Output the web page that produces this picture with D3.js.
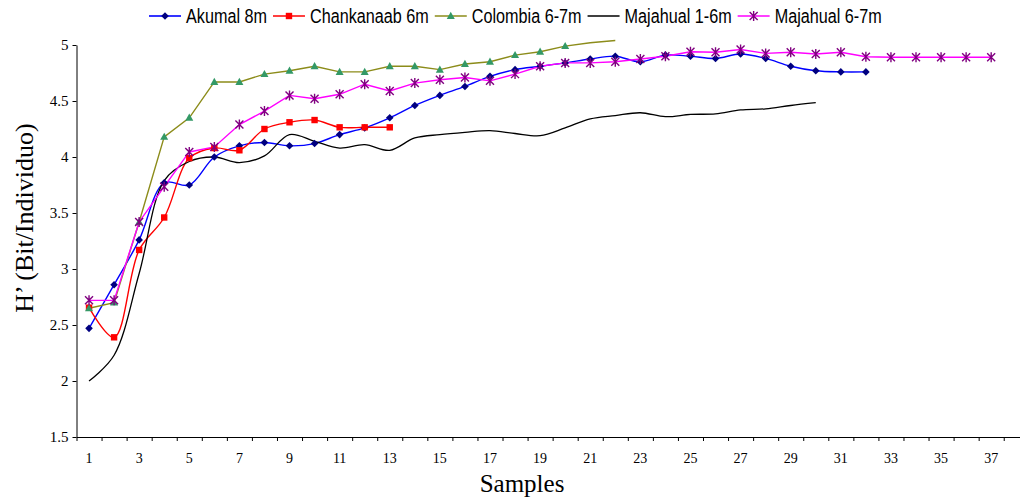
<!DOCTYPE html>
<html><head><meta charset="utf-8">
<script src="https://cdn.jsdelivr.net/npm/d3@7"></script>
<style>
html,body{margin:0;padding:0;background:#fff;}
svg{display:block;}
</style></head>
<body>
<svg id="chart" width="1020" height="498"></svg>
<script>
// ---- data ----
const samples = [1,2,3,4,5,6,7,8,9,10,11,12,13,14,15,16,17,18,19,20,21,22,23,24,25,26,27,28,29,30,31,32,33,34,35,36,37,38];
const xTickLabels = [1,3,5,7,9,11,13,15,17,19,21,23,25,27,29,31,33,35,37];
const yTicks = [1.5,2,2.5,3,3.5,4,4.5,5];
const akumal = [2.47,2.86,3.26,3.77,3.75,4.0,4.10,4.13,4.10,4.12,4.20,4.26,4.35,4.46,4.55,4.63,4.72,4.78,4.81,4.84,4.875,4.90,4.85,4.91,4.90,4.88,4.92,4.88,4.81,4.77,4.76,4.76];
const chankanaab = [2.655,2.39,3.17,3.46,3.99,4.08,4.06,4.25,4.31,4.33,4.265,4.265,4.265];
const colombia = [2.65,2.70,3.42,4.18,4.35,4.67,4.67,4.74,4.77,4.81,4.76,4.76,4.81,4.81,4.78,4.83,4.85,4.91,4.94,4.99,5.02,5.04];
const majahual16 = [2.0,2.23,2.96,3.79,3.96,4.0,3.95,4.01,4.2,4.14,4.08,4.11,4.06,4.17,4.20,4.22,4.235,4.21,4.19,4.26,4.34,4.37,4.395,4.36,4.38,4.385,4.42,4.43,4.46,4.485];
const majahual67 = [2.72,2.72,3.42,3.735,4.045,4.09,4.29,4.41,4.55,4.52,4.56,4.65,4.59,4.66,4.69,4.71,4.68,4.74,4.81,4.84,4.84,4.85,4.875,4.90,4.94,4.935,4.96,4.925,4.935,4.92,4.935,4.895,4.89,4.89,4.89,4.89,4.89];
const seriesNames = ["Akumal 8m","Chankanaab 6m","Colombia 6-7m","Majahual 1-6m","Majahual 6-7m"];

// ---- styles ----
const series = [
  {name: seriesNames[0], values: akumal, line: "#0000ff", fill: "#000080", marker: "diamond", smooth: true},
  {name: seriesNames[1], values: chankanaab, line: "#ff0000", fill: "#ff0000", marker: "square", smooth: true},
  {name: seriesNames[2], values: colombia, line: "#8c8c1a", fill: "#339966", marker: "triangle", smooth: false},
  {name: seriesNames[3], values: majahual16, line: "#000000", fill: null, marker: null, smooth: true},
  {name: seriesNames[4], values: majahual67, line: "#ff00ff", fill: "#800080", marker: "star", smooth: false}
];

const svg = d3.select("#chart");
const mLeft = 76.5, bw = 25.06, mTop = 45, mBottom = 437;
const x = d3.scaleBand().domain(samples).range([mLeft, mLeft + bw * samples.length]).padding(0);
const xc = d => x(d) + x.bandwidth() / 2;
const y = d3.scaleLinear().domain([1.5, 5]).range([mBottom, mTop]);
const serif = "'Liberation Serif','Times New Roman',serif";

// axes
const yAxis = d3.axisLeft(y).tickValues(yTicks).tickSize(4).tickSizeOuter(0).tickPadding(4).tickFormat(d => String(d));
const gy = svg.append("g").attr("transform", `translate(${mLeft},0)`).call(yAxis);
gy.select(".domain").attr("stroke", "#000");
gy.selectAll(".tick line").attr("stroke", "#000");
gy.selectAll("text").attr("font-family", serif).attr("font-size", 15).attr("fill", "#000");

const xb = d3.scaleLinear().domain([0, samples.length]).range([mLeft, mLeft + bw * samples.length]);
const xAxis = d3.axisBottom(xb).tickValues(d3.range(0, samples.length + 1)).tickSize(4).tickSizeOuter(0).tickFormat("");
const gx = svg.append("g").attr("transform", `translate(0,${mBottom})`).call(xAxis);
gx.select(".domain").attr("stroke", "#000");
gx.selectAll(".tick line").attr("stroke", "#000");
svg.append("g").selectAll("text").data(xTickLabels).join("text")
  .attr("x", d => xc(d)).attr("y", mBottom + 26)
  .attr("text-anchor", "middle").attr("font-family", serif).attr("font-size", 14).text(d => d);

// axis titles
svg.append("text").attr("x", 522).attr("y", 492).attr("text-anchor", "middle")
  .attr("font-family", serif).attr("font-size", 25).text("Samples");
svg.append("text").attr("transform", "translate(33,218) rotate(-90)").attr("text-anchor", "middle")
  .attr("font-family", serif).attr("font-size", 26).text("H’ (Bit/Individuo)");

// markers
function drawMarker(g, type, fill, cx, cy) {
  if (type === "diamond") {
    g.append("path").attr("d", `M${cx},${cy-3.8}L${cx+3.8},${cy}L${cx},${cy+3.8}L${cx-3.8},${cy}Z`).attr("fill", fill);
  } else if (type === "square") {
    g.append("rect").attr("x", cx - 3.2).attr("y", cy - 3.2).attr("width", 6.4).attr("height", 6.4).attr("fill", fill);
  } else if (type === "triangle") {
    g.append("path").attr("d", `M${cx},${cy-4.2}L${cx+4},${cy+3}L${cx-4},${cy+3}Z`).attr("fill", fill);
  } else if (type === "star") {
    g.append("path").attr("d", `M${cx-4},${cy-4}L${cx+4},${cy+4}M${cx-4},${cy+4}L${cx+4},${cy-4}M${cx},${cy-5}L${cx},${cy+5}`)
      .attr("stroke", fill).attr("stroke-width", 1.4).attr("fill", "none");
  }
}

const plot = svg.append("g");
series.forEach(s => {
  const pts = s.values.map((v, i) => [samples[i], v]);
  const line = d3.line().x(d => xc(d[0])).y(d => y(d[1]))
    .curve(s.smooth ? d3.curveCatmullRom.alpha(0.5) : d3.curveLinear);
  plot.append("path").datum(pts).attr("d", line).attr("fill", "none")
    .attr("stroke", s.line).attr("stroke-width", s.line === "#000000" ? 1.3 : 1.4);
});
series.forEach(s => {
  if (!s.marker) return;
  const g = plot.append("g");
  s.values.forEach((v, i) => { if (v <= 5) drawMarker(g, s.marker, s.fill, xc(samples[i]), y(v)); });
});

// legend
const legend = svg.append("g");
let lx = 149;
const ly = 16;
const sx = 0.81;
series.forEach(s => {
  legend.append("line").attr("x1", lx).attr("x2", lx + 32).attr("y1", ly).attr("y2", ly)
    .attr("stroke", s.line).attr("stroke-width", 1.6);
  if (s.marker) drawMarker(legend, s.marker, s.fill, lx + 16, ly);
  const t = legend.append("text").attr("font-family", "'Liberation Sans',Arial,sans-serif").attr("font-size", 20)
    .attr("transform", `translate(${lx + 37},${ly + 7}) scale(${sx},1)`).text(s.name);
  const w = t.node().getComputedTextLength() * sx;
  lx += 37 + w + 6;
});
</script>
</body></html>
